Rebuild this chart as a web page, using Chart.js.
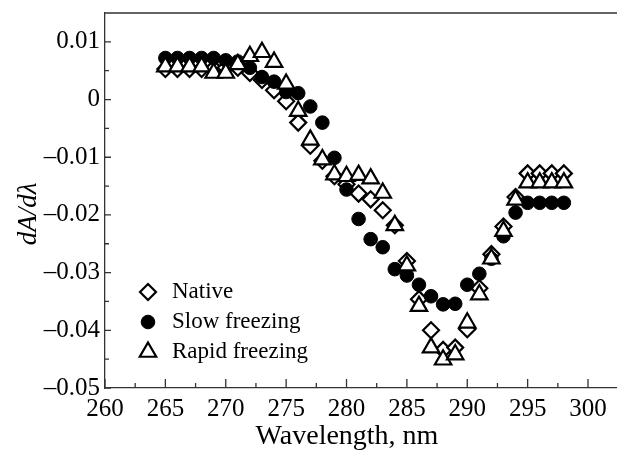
<!DOCTYPE html>
<html>
<head>
<meta charset="utf-8">
<script src="https://cdn.jsdelivr.net/npm/chart.js@4/dist/chart.umd.min.js"></script>
<style>
  body { margin: 0; background: #fff; }
  #wrap { width: 617px; height: 450px; }
</style>
</head>
<body>
<div id="wrap"><canvas id="spectra" width="617" height="450"></canvas></div>
<script>
// wavelengths, nm
const wavelengths = [265, 266, 267, 268, 269, 270, 271, 272, 273, 274, 275, 276, 277, 278, 279, 280, 281,
  282, 283, 284, 285, 286, 287, 288, 289, 290, 291, 292, 293, 294, 295, 296, 297, 298];

// dA/dλ values
const nativeVals = [0.0053, 0.0053, 0.0053, 0.0053, 0.0054, 0.0055, 0.0055, 0.0046, 0.0034, 0.0016,
  -0.0003, -0.0040, -0.0080, -0.0106, -0.0133, -0.0147, -0.0163, -0.0173, -0.0192, -0.0218,
  -0.0280, -0.0346, -0.0400, -0.0434, -0.0430, -0.0398, -0.0327, -0.0268, -0.0220, -0.0169,
  -0.0128, -0.0128, -0.0128, -0.0128];

const slowVals = [0.0072, 0.0072, 0.0072, 0.0072, 0.0072, 0.0068, 0.0066, 0.0055, 0.0039, 0.0031,
  0.0013, 0.0011, -0.0012, -0.0040, -0.0101, -0.0156, -0.0207, -0.0242, -0.0256, -0.0294,
  -0.0305, -0.0321, -0.0341, -0.0355, -0.0354, -0.0321, -0.0302, -0.0276, -0.0237, -0.0196,
  -0.0179, -0.0179, -0.0179, -0.0179];

const rapidVals = [0.0057, 0.0057, 0.0057, 0.0057, 0.0046, 0.0046, 0.0061, 0.0075, 0.0082, 0.0065,
  0.0027, -0.0020, -0.0070, -0.0104, -0.0130, -0.0133, -0.0131, -0.0137, -0.0162, -0.0218,
  -0.0288, -0.0358, -0.0430, -0.0451, -0.0442, -0.0387, -0.0338, -0.0276, -0.0228, -0.0174,
  -0.0144, -0.0144, -0.0144, -0.0144];

const seriesNames = ["Native", "Slow freezing", "Rapid freezing"];

const xTicks = [260, 265, 270, 275, 280, 285, 290, 295, 300];
const xMinor = [262.5, 267.5, 272.5, 277.5, 282.5, 287.5, 292.5, 297.5];
const yTicks = [-0.05, -0.04, -0.03, -0.02, -0.01, 0, 0.01];
const yMinor = [-0.045, -0.035, -0.025, -0.015, -0.005, 0.005];

const serif = "'Liberation Serif', 'Times New Roman', serif";
const nbsp4 = "\u00a0\u00a0\u00a0\u00a0"; // nudges the axis titles off-centre like the original

const toPoints = (vals) => vals.map((v, i) => ({ x: wavelengths[i], y: v }));

const fmtY = (v) => {
  if (Math.abs(v) < 1e-9) return "0";
  const s = Math.abs(v).toFixed(2);
  return v < 0 ? "\u2013" + s : s;
};

// inward ticks, top frame line and legend
const framePlugin = {
  id: "frame",
  afterDraw(chart) {
    const ctx = chart.ctx;
    const area = chart.chartArea;
    const xs = chart.scales.x;
    const ys = chart.scales.y;
    ctx.save();
    ctx.strokeStyle = "#333";
    ctx.lineWidth = 1.3;
    ctx.beginPath();
    ctx.moveTo(area.left, area.top);
    ctx.lineTo(area.right, area.top);
    xTicks.forEach((t) => {
      const px = xs.getPixelForValue(t);
      ctx.moveTo(px, area.bottom);
      ctx.lineTo(px, area.bottom - 9);
    });
    xMinor.forEach((t) => {
      const px = xs.getPixelForValue(t);
      ctx.moveTo(px, area.bottom);
      ctx.lineTo(px, area.bottom - 5);
    });
    yTicks.forEach((t) => {
      const py = ys.getPixelForValue(t);
      ctx.moveTo(area.left, py);
      ctx.lineTo(area.left + 6, py);
    });
    yMinor.forEach((t) => {
      const py = ys.getPixelForValue(t);
      ctx.moveTo(area.left, py);
      ctx.lineTo(area.left + 4, py);
    });
    ctx.stroke();

    // legend
    ctx.font = "23px " + serif;
    ctx.textBaseline = "middle";
    chart.data.datasets.forEach((ds, i) => {
      const y = 292 + i * 30;
      ctx.fillStyle = ds.backgroundColor;
      ctx.strokeStyle = ds.borderColor;
      ctx.lineWidth = ds.borderWidth;
      Chart.helpers.drawPoint(ctx, {
        pointStyle: ds.pointStyle,
        radius: ds.pointRadius,
        borderWidth: ds.borderWidth,
        rotation: 0
      }, 148, y);
      ctx.fillStyle = "#000";
      ctx.fillText(ds.label, 172, y);
    });
    ctx.restore();
  }
};

const canvas = document.getElementById("spectra");

new Chart(canvas, {
  type: "scatter",
  data: {
    datasets: [
      {
        label: seriesNames[0],
        data: toPoints(nativeVals),
        pointStyle: "rectRot",
        pointRadius: 8,
        backgroundColor: "#fff",
        borderColor: "#000",
        borderWidth: 2.2,
        order: 3
      },
      {
        label: seriesNames[1],
        data: toPoints(slowVals),
        pointStyle: "circle",
        pointRadius: 6.8,
        backgroundColor: "#000",
        borderColor: "#000",
        borderWidth: 1,
        order: 2
      },
      {
        label: seriesNames[2],
        data: toPoints(rapidVals),
        pointStyle: "triangle",
        pointRadius: 9.5,
        backgroundColor: "#fff",
        borderColor: "#000",
        borderWidth: 2.2,
        order: 1
      }
    ]
  },
  options: {
    responsive: false,
    animation: false,
    layout: { autoPadding: false, padding: { top: 13, right: 0, bottom: 0, left: 0 } },
    scales: {
      x: {
        type: "linear",
        min: 260,
        max: 302.4,
        afterBuildTicks: (scale) => {
          scale.ticks = xTicks.map((v) => ({ value: v }));
        },
        afterFit: (scale) => {
          scale.height = 62;
          scale.paddingLeft = 0;
          scale.paddingRight = 0;
        },
        grid: { display: false, drawTicks: false },
        border: { display: true, color: "#333", width: 1.3 },
        ticks: {
          color: "#000",
          font: { family: serif, size: 25 },
          padding: 6,
          maxRotation: 0,
          autoSkip: false
        },
        title: {
          display: true,
          text: "Wavelength, nm" + nbsp4,
          color: "#000",
          font: { family: serif, size: 28, lineHeight: 1 },
          padding: { top: 0, bottom: -1 }
        }
      },
      y: {
        min: -0.05,
        max: 0.015,
        afterBuildTicks: (scale) => {
          scale.ticks = yTicks.map((v) => ({ value: v }));
        },
        afterFit: (scale) => {
          scale.width = 105;
          scale.paddingTop = 0;
          scale.paddingBottom = 0;
        },
        grid: { display: false, drawTicks: false },
        border: { display: true, color: "#333", width: 1.3 },
        ticks: {
          color: "#000",
          font: { family: serif, size: 25 },
          padding: 5,
          callback: (v) => fmtY(v)
        },
        title: {
          display: true,
          text: "dA/d\u03bb" + nbsp4,
          color: "#000",
          font: { family: serif, size: 27, style: "italic", lineHeight: 1 },
          padding: { top: 15, bottom: 0 }
        }
      }
    },
    plugins: {
      legend: { display: false },
      tooltip: { enabled: false }
    }
  },
  plugins: [framePlugin]
});
</script>
</body>
</html>
